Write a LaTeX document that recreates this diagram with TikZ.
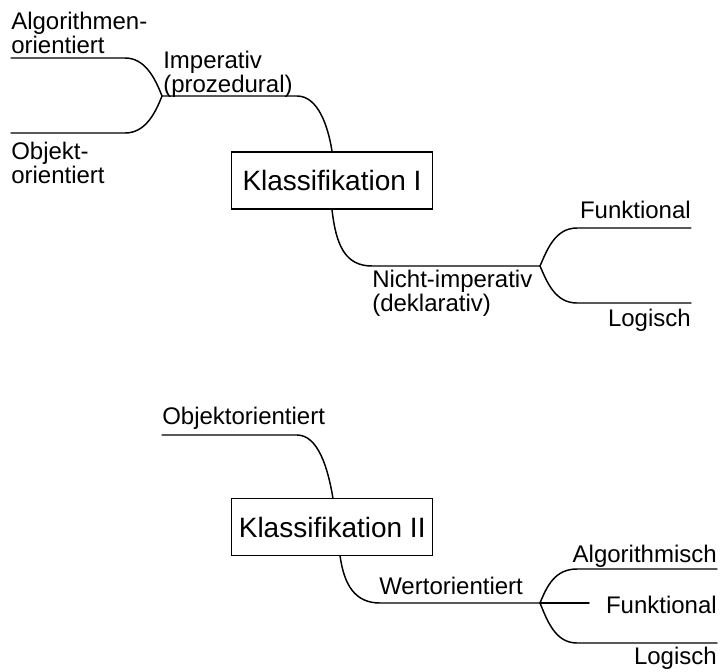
\documentclass[tikz,border=0pt]{standalone}
\usepackage{fontspec}
\setmainfont{Liberation Sans}
\begin{document}
\begin{tikzpicture}[x=0.75pt,y=-0.75pt,
  branch/.style={line width=1.1pt,line cap=round},
  lbl/.style={inner sep=0pt,font=\fontsize{18}{16.5}\selectfont,align=left},
  rlbl/.style={inner sep=0pt,font=\fontsize{18}{16.5}\selectfont,anchor=base east},
  klass/.style={draw,line width=1.1pt,inner sep=0pt,minimum width=150.75pt,
    minimum height=42.75pt,font=\fontsize{21}{24}\selectfont}]
\useasboundingbox (0,0) rectangle (720,671);

% ---------- Klassifikation I ----------
\node[klass] (k1) at (332,180.4) {Klassifikation I};

\coordinate (aoEnd) at (11,58);
\coordinate (ooEnd) at (11,133);
\coordinate (jImp) at (162,96);
\coordinate (jDekl) at (540,266);
\coordinate (fkEnd) at (691,228);
\coordinate (lgEnd) at (691,303);

\node[lbl,anchor=north west] (ao) at (11,12) {Algorithmen-\\orientiert};
\node[lbl,anchor=north west] (oo) at (11,142) {Objekt-\\orientiert};
\node[lbl,anchor=north west] (imp) at (163,51) {Imperativ\\(prozedural)};
\node[lbl,anchor=north west] (dekl) at (372,270) {Nicht-imperativ\\(deklarativ)};
\node[rlbl] (fk1) at (691,218) {Funktional};
\node[rlbl] (lg1) at (691,326) {Logisch};

\draw[branch] (aoEnd) -- (125,58) .. controls (145,58) and (155,78) .. (jImp);
\draw[branch] (ooEnd) -- (125,133) .. controls (145,133) and (155,114) .. (jImp);
\draw[branch] (jImp) -- (297,96) .. controls (318,96) and (328,126) .. (k1.north);
\draw[branch] (k1.south) .. controls (336,245) and (345,266) .. (372,266) -- (jDekl);
\draw[branch] (jDekl) .. controls (547,250) and (555,228) .. (577,228) -- (fkEnd);
\draw[branch] (jDekl) .. controls (547,282) and (555,303) .. (577,303) -- (lgEnd);

% ---------- Klassifikation II ----------
\node[klass] (k2) at (332.2,527) {Klassifikation II};

\coordinate (obEnd) at (162,435);
\coordinate (k2top) at (333,498.5);
\coordinate (k2bot) at (340,555.5);
\coordinate (jWert) at (540,603);
\coordinate (alEnd) at (717,569);
\coordinate (fkMid) at (589,603);
\coordinate (lgEnd2) at (717,643);

\node[lbl,anchor=base west] (ob) at (162,424) {Objektorientiert};
\node[lbl,anchor=base west] (wert) at (379,594) {Wertorientiert};
\node[rlbl] (al) at (717,562) {Algorithmisch};
\node[rlbl] (fk2) at (717,613) {Funktional};
\node[rlbl] (lg2) at (717,664) {Logisch};

\draw[branch] (obEnd) -- (297,435) .. controls (318,435) and (328,468) .. (k2top);
\draw[branch] (k2bot) .. controls (344,585) and (355,603) .. (380,603) -- (jWert);
\draw[branch] (jWert) .. controls (547,586) and (555,569) .. (577,569) -- (alEnd);
\draw[branch] (jWert) -- (fkMid);
\draw[branch] (jWert) .. controls (547,620) and (555,643) .. (577,643) -- (lgEnd2);
\end{tikzpicture}
\end{document}
